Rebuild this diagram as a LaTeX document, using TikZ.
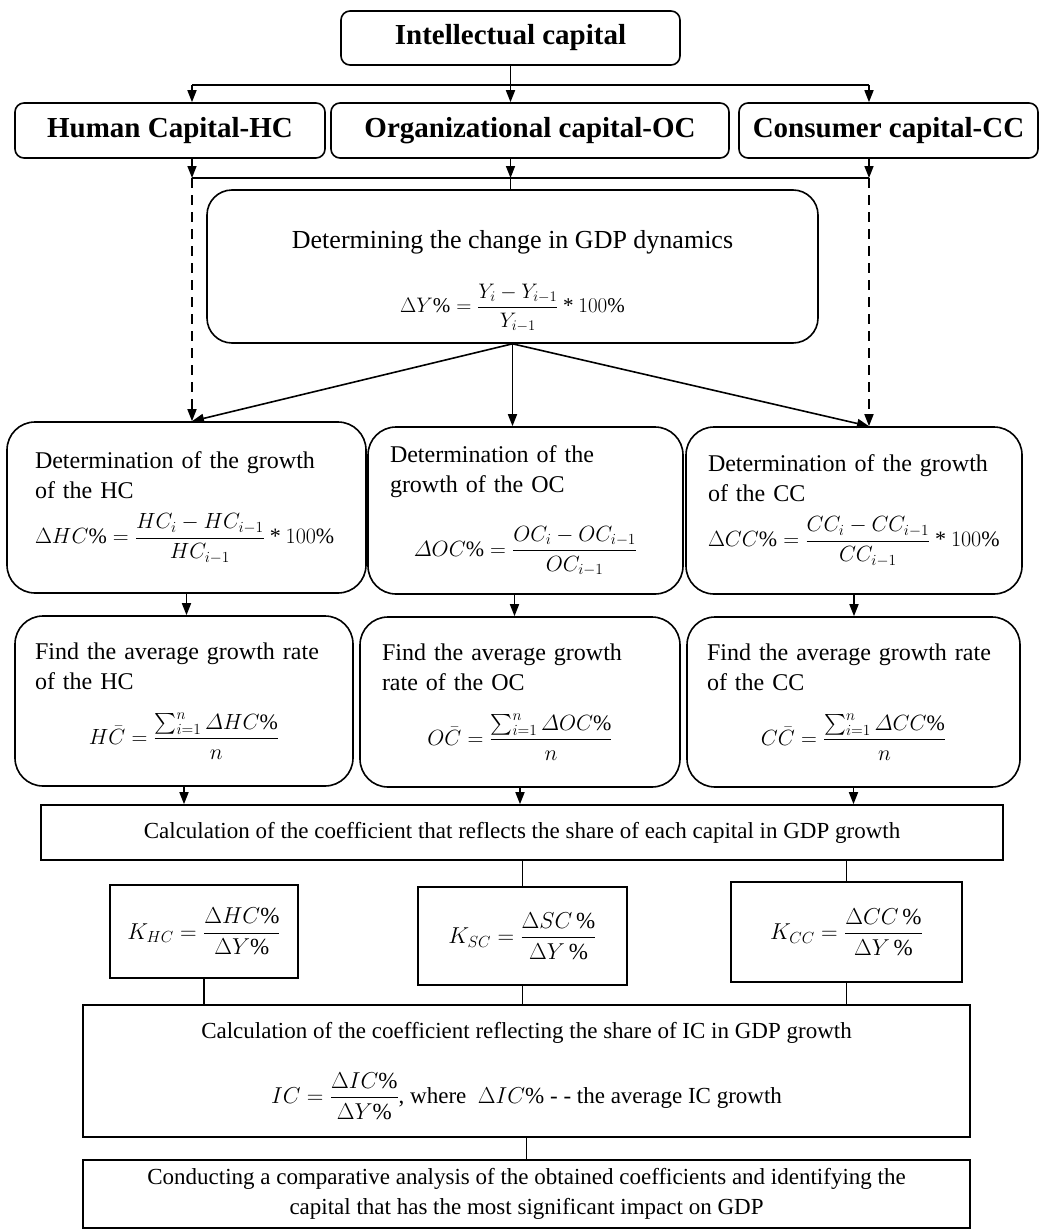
\RequirePackage{fix-cm}
\documentclass[tikz,border=0pt]{standalone}
\usepackage{amsmath}
\usepackage{fontspec}
\setmainfont{Liberation Serif}
\usetikzlibrary{arrows.meta}
\tikzset{%
  capbox/.style={draw, rounded corners=9pt, line width=1.6pt, font=\fontsize{29}{34}\selectfont\bfseries},
  stepbox/.style={draw, rounded corners=28pt, line width=1.6pt, align=left, font=\fontsize{24}{30}\selectfont},
  calcbox/.style={draw, line width=1.6pt, font=\fontsize{23}{30}\selectfont},
  joint/.style={line width=1.6pt},
  flow/.style={joint, -{Triangle[length=12pt, width=9pt]}},
  dashflow/.style={flow, dash pattern=on 10pt off 7pt},
}
\newcommand{\asterisk}{\mathbin{\textrm{*}}}
\newcommand{\fml}[1]{{\fontsize{22}{26}\selectfont$#1$}}
\newcommand{\midfml}[1]{\hbox to\hsize{\hss\fml{#1}\hss}}

\begin{document}
\begin{tikzpicture}[x=1pt, y=-1pt]%
\useasboundingbox (0,0) rectangle (1041,1231);%
\node[capbox, minimum width=339, minimum height=54] (ic) at (510.5,38) {Intellectual capital};%
\node[capbox, minimum width=310, minimum height=55] (hc) at (170,130.5) {Human Capital-HC};%
\node[capbox, minimum width=398, minimum height=55] (oc) at (530,130.5) {Organizational capital-OC};%
\node[capbox, minimum width=299, minimum height=55] (cc) at (888.5,130.5) {Consumer capital-CC};%
\node[stepbox, rounded corners=25pt, minimum width=611, minimum height=153, align=center, font=\fontsize{26}{32}\selectfont] (gdp) at (512.5,266.5) {\rule{0pt}{47pt}Determining the change in GDP dynamics\\[29pt]{\fontsize{21}{24}\selectfont$\Delta Y\% = \dfrac{Y_i - Y_{i-1}}{Y_{i-1}} \asterisk 100\%$}};%
\node[stepbox, minimum width=359, minimum height=171, inner xsep=28pt, text width=303] (dhc) at (186.5,507.5) {Determination of the growth\\ of the HC\\[14pt]\fml{\Delta HC\% = \dfrac{HC_i - HC_{i-1}}{HC_{i-1}} \asterisk 100\%}};%
\node[stepbox, minimum width=315, minimum height=167, inner xsep=22pt, text width=271] (doc) at (525.5,510.5) {Determination of the\\ growth of the OC\\[28pt]\midfml{\varDelta OC\% = \dfrac{OC_i - OC_{i-1}}{OC_{i-1}}}};%
\node[stepbox, minimum width=336, minimum height=167, inner xsep=22pt, text width=292] (dcc) at (854,510.5) {Determination of the growth\\ of the CC\\[14pt]\fml{\Delta CC\% = \dfrac{CC_i - CC_{i-1}}{CC_{i-1}} \asterisk 100\%}};%
\node[stepbox, minimum width=338, minimum height=170, inner xsep=20pt, text width=298] (ahc) at (184,701) {Find the average growth rate\\ of the HC\\[22pt]\midfml{H\bar{C} = \dfrac{\sum_{i=1}^{n} \varDelta HC\%}{n}}};%
\node[stepbox, minimum width=320, minimum height=170, inner xsep=22pt, text width=276] (aoc) at (520,702) {Find the average growth\\ rate of the OC\\[22pt]\midfml{O\bar{C} = \dfrac{\sum_{i=1}^{n} \varDelta OC\%}{n}}};%
\node[stepbox, minimum width=333, minimum height=170, inner xsep=20pt, text width=293] (acc) at (853.5,702) {Find the average growth rate\\ of the CC\\[22pt]\midfml{C\bar{C} = \dfrac{\sum_{i=1}^{n} \varDelta CC\%}{n}}};%
\node[calcbox, minimum width=962, minimum height=55] (share) at (522,832.5) {Calculation of the coefficient that reflects the share of each capital in GDP growth};%
\node[calcbox, minimum width=188, minimum height=93] (khc) at (204,931.5) {$K_{HC} = \dfrac{\Delta HC\%}{\Delta Y\%}$};%
\node[calcbox, minimum width=209, minimum height=98] (ksc) at (522.5,936) {$K_{SC} = \dfrac{\Delta SC\,\%}{\Delta Y\,\%}$};%
\node[calcbox, minimum width=231, minimum height=100] (kcc) at (846.5,932) {$K_{CC} = \dfrac{\Delta CC\,\%}{\Delta Y\,\%}$};%
\node[calcbox, minimum width=887, minimum height=132, align=center] (icshare) at (526.5,1071) {Calculation of the coefficient reflecting the share of IC in GDP growth\\[28pt]$IC = \dfrac{\Delta IC\%}{\Delta Y\%}$, where \ $\Delta IC\%$ - - the average IC growth};%
\node[calcbox, minimum width=887, minimum height=68, align=center] (final) at (526.5,1194) {Conducting a comparative analysis of the obtained coefficients and identifying the\\ capital that has the most significant impact on GDP};%
\coordinate (tl) at (192,85);%
\coordinate (tr) at (869,85);%
\coordinate (bl) at (192,178);%
\coordinate (br) at (869,178);%
\draw[joint] (ic.south) -- (ic.south |- tl);%
\draw[joint] (tl) -- (tr);%
\draw[flow] (tl) -- (tl |- hc.north);%
\draw[flow] (ic.south |- tl) -- (ic.south |- oc.north);%
\draw[flow] (tr) -- (tr |- cc.north);%
\draw[flow] (tl |- hc.south) -- (bl);%
\draw[flow] (ic.south |- oc.south) -- (ic.south |- bl);%
\draw[flow] (tr |- cc.south) -- (br);%
\draw[joint] (bl) -- (br);%
\draw[joint] (ic.south |- bl) -- (ic.south |- gdp.north);%
\draw[dashflow] (bl) -- (bl |- dhc.north);%
\draw[dashflow] (br) -- (br |- dcc.north);%
\draw[flow] (gdp.south) -- (bl |- dhc.north);%
\draw[flow] (gdp.south) -- (gdp.south |- doc.north);%
\draw[flow] (gdp.south) -- (br |- dcc.north);%
\draw[flow] (dhc.south) -- (dhc.south |- ahc.north);%
\draw[flow] ([xshift=-11pt]doc.south) -- ([xshift=-11pt]doc.south |- aoc.north);%
\draw[flow] (dcc.south) -- (dcc.south |- acc.north);%
\draw[flow] (ahc.south) -- (ahc.south |- share.north);%
\draw[flow] (aoc.south) -- (aoc.south |- share.north);%
\draw[flow] (acc.south) -- (acc.south |- share.north);%
\draw[joint] (ksc.north |- share.south) -- (ksc.north);%
\draw[joint] (kcc.north |- share.south) -- (kcc.north);%
\draw[joint] (khc.south) -- (khc.south |- icshare.north);%
\draw[joint] (ksc.south) -- (ksc.south |- icshare.north);%
\draw[joint] (kcc.south) -- (kcc.south |- icshare.north);%
\draw[joint] (icshare.south) -- (final.north);%
\end{tikzpicture}
\end{document}
